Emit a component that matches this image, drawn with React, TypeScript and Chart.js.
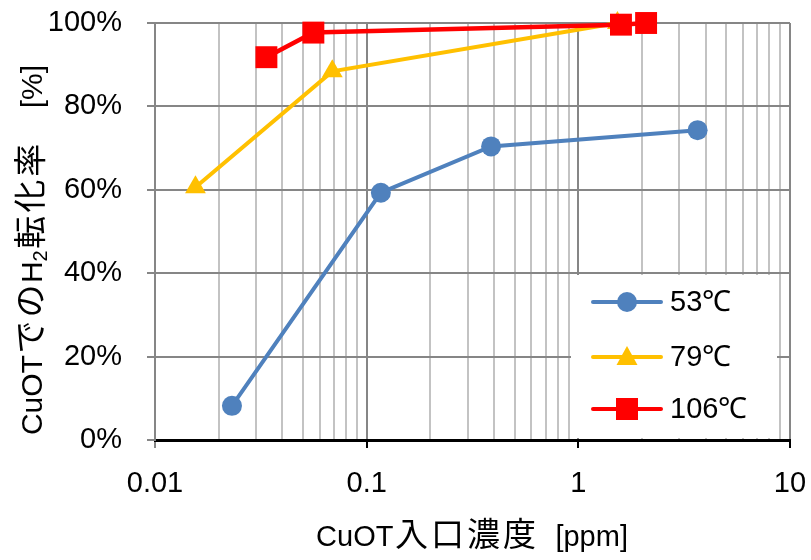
import React, { useEffect, useRef } from 'react';
import { Chart, registerables } from 'chart.js';

Chart.register(...registerables);

// ---- data ----
const seriesLabels = ['53℃', '79℃', '106℃'];
const x53 = [0.0231, 0.1167, 0.387, 3.66];
const y53 = [8.2, 59.3, 70.4, 74.3];
const x79 = [0.01553, 0.0688, 1.53];
const y79 = [60.6, 88.4, 100];
const x106 = [0.0336, 0.056, 1.59, 2.09];
const y106 = [91.8, 97.7, 99.6, 100];

const yTickValues = [0, 20, 40, 60, 80, 100];
const xMajorTicks = [0.01, 0.1, 1, 10];
const xMinorSteps = [2, 3, 4, 5, 6, 7, 8, 9];
const xTitle = 'CuOT入口濃度';
const xTitleUnit = '[ppm]';

const BLUE = '#4f81bd';
const YELLOW = '#ffc000';
const RED = '#ff0000';
const MAJOR = '#868686';
const MINOR = '#c3c3c3';

const LATIN = "29px 'Liberation Sans', Arial, sans-serif";
const LATIN_T = "30px 'Liberation Sans', Arial, sans-serif";
const CJK = "33px 'Noto Sans CJK JP', sans-serif";
const SUB = "20px 'Liberation Sans', Arial, sans-serif";

const xTickValues: number[] = xMajorTicks
  .slice(0, -1)
  .flatMap((d) => [d, ...xMinorSteps.map((s) => +(d * s).toPrecision(3))])
  .concat([xMajorTicks[xMajorTicks.length - 1]]);

type Seg = { t: string; f: string; dy?: number; ls?: number; gap?: number };

function segWidth(ctx: CanvasRenderingContext2D, s: Seg) {
  ctx.font = s.f;
  let w = s.gap || 0;
  if (s.ls) {
    for (const ch of s.t) w += ctx.measureText(ch).width + s.ls;
    return w;
  }
  return w + ctx.measureText(s.t).width;
}

function drawSegs(ctx: CanvasRenderingContext2D, segs: Seg[], cx: number, baseline: number) {
  const widths = segs.map((s) => segWidth(ctx, s));
  const total = widths.reduce((a, b) => a + b, 0);
  let x = cx - total / 2;
  ctx.textAlign = 'left';
  ctx.textBaseline = 'alphabetic';
  ctx.fillStyle = '#000';
  segs.forEach((s, i) => {
    ctx.font = s.f;
    const x0 = x + (s.gap || 0);
    if (s.ls) {
      let xx = x0 + s.ls / 2;
      for (const ch of s.t) {
        ctx.fillText(ch, xx, baseline + (s.dy || 0));
        xx += ctx.measureText(ch).width + s.ls;
      }
    } else {
      ctx.fillText(s.t, x0, baseline + (s.dy || 0));
    }
    x += widths[i];
  });
}

const titlesPlugin = {
  id: 'titles',
  afterDraw(chart: any) {
    const ctx: CanvasRenderingContext2D = chart.ctx;
    ctx.save();
    // x title
    drawSegs(
      ctx,
      [
        { t: 'CuOT', f: LATIN },
        { t: xTitle.slice(4), f: CJK, ls: 3 },
        { t: xTitleUnit, f: LATIN, gap: 18 },
      ],
      472,
      546
    );
    // y title
    ctx.translate(42, 250);
    ctx.rotate(-Math.PI / 2);
    drawSegs(
      ctx,
      [
        { t: 'CuOT', f: LATIN_T },
        { t: 'での', f: CJK, ls: 3 },
        { t: 'H', f: LATIN_T },
        { t: '2', f: SUB, dy: 5 },
        { t: '転化率', f: CJK, ls: 3 },
        { t: '[%]', f: LATIN_T, gap: 34 },
      ],
      0,
      0
    );
    ctx.restore();
  },
};

function drawMarker(ctx: CanvasRenderingContext2D, style: string, x: number, y: number, color: string) {
  ctx.fillStyle = color;
  ctx.beginPath();
  if (style === 'circle') {
    ctx.arc(x, y, 10, 0, Math.PI * 2);
  } else if (style === 'triangle') {
    ctx.moveTo(x, y - 11);
    ctx.lineTo(x + 10.5, y + 8);
    ctx.lineTo(x - 10.5, y + 8);
    ctx.closePath();
  } else {
    ctx.rect(x - 11, y - 11, 22, 22);
  }
  ctx.fill();
}

const legendPlugin = {
  id: 'boxLegend',
  afterDraw(chart: any) {
    const ctx: CanvasRenderingContext2D = chart.ctx;
    ctx.save();
    ctx.fillStyle = '#fff';
    ctx.fillRect(571, 275, 206, 163);
    const rows = [302, 357, 409];
    const order = [0, 1, 2];
    order.forEach((di, r) => {
      const ds = chart.data.datasets[di];
      const y = rows[r];
      ctx.strokeStyle = ds.borderColor;
      ctx.lineWidth = 4;
      ctx.lineCap = 'round';
      ctx.beginPath();
      ctx.moveTo(593, y);
      ctx.lineTo(661, y);
      ctx.stroke();
      drawMarker(ctx, ds.pointStyle, 627, y, ds.borderColor);
      ctx.fillStyle = '#000';
      ctx.font = LATIN;
      ctx.textAlign = 'left';
      ctx.textBaseline = 'middle';
      ctx.fillText(ds.label, 670, y + 1);
    });
    ctx.restore();
  },
};

const zeroPad = (scale: any) => {
  scale.paddingTop = 0;
  scale.paddingBottom = 0;
  scale.paddingLeft = 0;
  scale.paddingRight = 0;
};

export default function App() {
  const ref = useRef<HTMLCanvasElement>(null);
  useEffect(() => {
    document.body.style.margin = '0';
    const mk = (xs: number[], ys: number[]) => xs.map((x, i) => ({ x, y: ys[i] }));
    const chart = new Chart(ref.current as HTMLCanvasElement, {
      type: 'scatter',
      data: {
        datasets: [
          {
            label: seriesLabels[0],
            data: mk(x53, y53),
            borderColor: BLUE,
            backgroundColor: BLUE,
            pointStyle: 'circle',
            pointRadius: 10,
            pointBorderWidth: 0,
            borderWidth: 4,
            showLine: true,
            clip: false as any,
            order: 2,
          },
          {
            label: seriesLabels[1],
            data: mk(x79, y79),
            borderColor: YELLOW,
            backgroundColor: YELLOW,
            pointStyle: 'triangle',
            pointRadius: 12,
            pointBorderWidth: 0,
            borderWidth: 4,
            showLine: true,
            clip: false as any,
            order: 1,
          },
          {
            label: seriesLabels[2],
            data: mk(x106, y106),
            borderColor: RED,
            backgroundColor: RED,
            pointStyle: 'rect',
            pointRadius: 15.5,
            pointBorderWidth: 0,
            borderWidth: 4.5,
            showLine: true,
            clip: false as any,
            order: 0,
          },
        ],
      },
      options: {
        responsive: false,
        animation: false,
        devicePixelRatio: 1,
        layout: { padding: { top: 23, right: 21, left: 0, bottom: 0 } },
        plugins: { legend: { display: false }, tooltip: { enabled: false } },
        scales: {
          x: {
            type: 'logarithmic',
            min: 0.01,
            max: 10,
            afterBuildTicks: (scale: any) => {
              scale.ticks = xTickValues.map((v) => ({ value: v, major: xMajorTicks.includes(v) }));
            },
            afterFit: (scale: any) => {
              scale.height = 120;
              zeroPad(scale);
            },
            ticks: {
              autoSkip: false,
              maxRotation: 0,
              font: { family: "'Liberation Sans', Arial, sans-serif", size: 29 },
              color: '#000',
              padding: 19,
              callback: (v: any) => (xMajorTicks.includes(Number(v)) ? String(v) : ''),
            },
            grid: {
              color: (c: any) => (c.tick && xMajorTicks.includes(c.tick.value) ? MAJOR : MINOR),
              lineWidth: 2,
              tickLength: 8,
              tickWidth: 2,
              tickColor: (c: any) =>
                c.tick && xMajorTicks.includes(c.tick.value)
                  ? c.tick.value === 0.01
                    ? MAJOR
                    : '#000'
                  : 'rgba(0,0,0,0)',
            },
            border: { color: '#000', width: 3 },
          },
          y: {
            min: 0,
            max: 100,
            afterBuildTicks: (scale: any) => {
              scale.ticks = yTickValues.map((v) => ({ value: v }));
            },
            afterFit: (scale: any) => {
              scale.width = 155;
              zeroPad(scale);
            },
            ticks: {
              font: { family: "'Liberation Sans', Arial, sans-serif", size: 29 },
              color: '#000',
              padding: 25,
              callback: (v: any) => v + '%',
            },
            grid: {
              color: (c: any) => (c.tick && c.tick.value === 0 ? 'rgba(0,0,0,0)' : MAJOR),
              lineWidth: 2,
              tickLength: 8,
              tickWidth: 2,
              tickColor: MAJOR,
            },
            border: { color: MAJOR, width: 2 },
          },
        },
      },
      plugins: [legendPlugin, titlesPlugin],
    } as any);
    return () => chart.destroy();
  }, []);
  return (
    <div style={{ position: 'absolute', left: 0, top: 0 }}>
      <canvas ref={ref} width={811} height={560} style={{ display: 'block', width: 811, height: 560 }} />
    </div>
  );
}
